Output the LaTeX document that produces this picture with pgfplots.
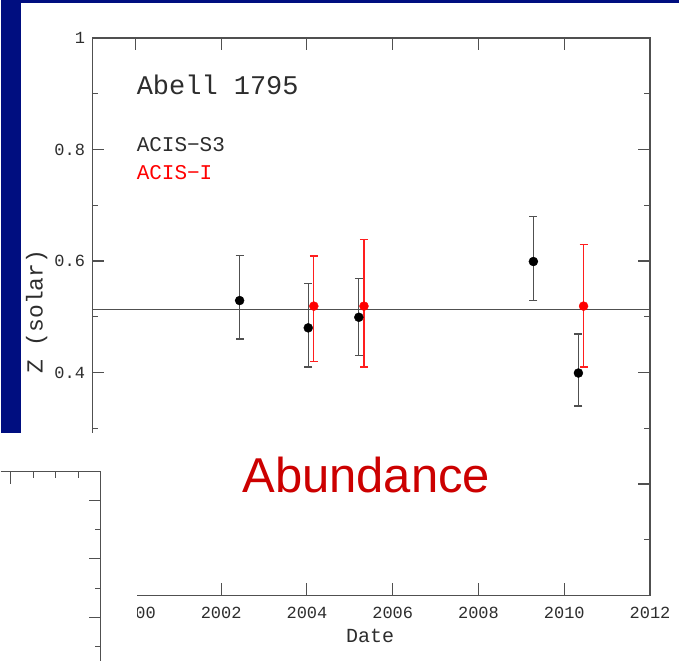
\documentclass[border=0pt]{standalone}
\usepackage{pgfplots}
\pgfplotsset{compat=1.18}
\usepackage{fontspec}
\setmainfont{Liberation Mono}
\newfontfamily\arial{Liberation Sans}
\definecolor{slideblue}{RGB}{0,14,128}
\definecolor{axgray}{RGB}{80,80,80}
\definecolor{txtgray}{RGB}{45,45,45}
\definecolor{abred}{RGB}{204,0,0}
\definecolor{ptred}{RGB}{255,30,30}

\pgfplotstableread{
x y ep em
2002.43 0.529 0.081 0.069
2004.03 0.480 0.079 0.070
2005.21 0.499 0.070 0.069
2009.28 0.599 0.081 0.070
2010.33 0.399 0.070 0.059
}\acisS
\pgfplotstableread{
x y ep em
2004.16 0.519 0.090 0.099
2005.33 0.519 0.120 0.109
2010.45 0.519 0.110 0.109
}\acisI

\begin{document}
\begin{tikzpicture}[x=1pt,y=1pt]
\fill[white] (0,0) rectangle (679,662);
\begin{axis}[
  at={(92pt,66pt)}, anchor=south west,
  width=558pt, height=558pt, scale only axis,
  xmin=1999, xmax=2012, ymin=0, ymax=1,
  xtick={2000,2002,...,2012}, minor x tick num=3,
  ytick={0,0.2,0.4,0.6,0.8,1}, minor y tick num=1,
  tick align=inside,
  major tick length=12pt, minor tick length=6pt,
  axis line style={axgray, line width=1.2pt},
  every tick/.style={axgray, line width=1.1pt},
  /pgf/number format/assume math mode=true,
  xticklabel style={/pgf/number format/1000 sep={}, font=\fontsize{17}{19}\selectfont, text=txtgray, yshift=-8pt},
  yticklabel style={font=\fontsize{17}{19}\selectfont, text=txtgray, xshift=-4pt},
  xlabel={Date},
  xlabel style={font=\fontsize{20}{22}\selectfont, text=txtgray, at={(axis description cs:0.498,-0.072)}, anchor=center},
  ylabel={Z (solar)},
  ylabel style={font=\fontsize{23}{25}\selectfont, text=txtgray, at={(axis description cs:-0.100,0.509)}, anchor=center},
  clip=false,
]
\addplot[axgray, line width=1pt] coordinates {(1999,0.513) (2012,0.513)};
\addplot[only marks, mark=*, mark size=4.5pt, black, mark options={fill=black, draw=black},
  error bars/.cd, y dir=both, y explicit,
  error bar style={axgray, line width=1.3pt},
  error mark options={rotate=90, mark size=4pt, axgray, line width=1.3pt}]
  table[x=x, y=y, y error plus=ep, y error minus=em] {\acisS};
\addplot[only marks, mark=*, mark size=4.5pt, red, mark options={fill=red, draw=red},
  error bars/.cd, y dir=both, y explicit,
  error bar style={ptred, line width=1.3pt},
  error mark options={rotate=90, mark size=4pt, ptred, line width=1.3pt}]
  table[x=x, y=y, y error plus=ep, y error minus=em] {\acisI};
\node[anchor=base west, inner sep=0, text=txtgray, font=\fontsize{27}{30}\selectfont] at (rel axis cs:0.079,0.898) {Abell 1795};
\node[anchor=base west, inner sep=0, text=txtgray, font=\fontsize{21}{24}\selectfont] at (rel axis cs:0.079,0.796) {ACIS−S3};
\node[anchor=base west, inner sep=0, text=red, font=\fontsize{21}{24}\selectfont] at (rel axis cs:0.079,0.747) {ACIS−I};
\end{axis}
% slide decorations
\fill[slideblue] (0,229) rectangle (20,662);
\fill[slideblue] (0,659) rectangle (679,662);
\fill[white] (0,0) rectangle (137,229);
% fragment of a second chart
\draw[axgray, line width=1.2pt] (0,190) -- (100,190) -- (100,0);
\foreach \xx/\ll in {10/12,33/6,55/6,78/6} {\draw[axgray, line width=1.1pt] (\xx,190) -- (\xx,190-\ll);}
\foreach \yy/\ll in {161/12,132/6,103/12,73/6,44/12,15/6} {\draw[axgray, line width=1.1pt] (100,\yy) -- (100-\ll,\yy);}
\node[anchor=base, inner sep=0, text=abred, font=\arial\fontsize{49}{52}\selectfont] at (366,169) {Abundance};
\end{tikzpicture}
\end{document}
